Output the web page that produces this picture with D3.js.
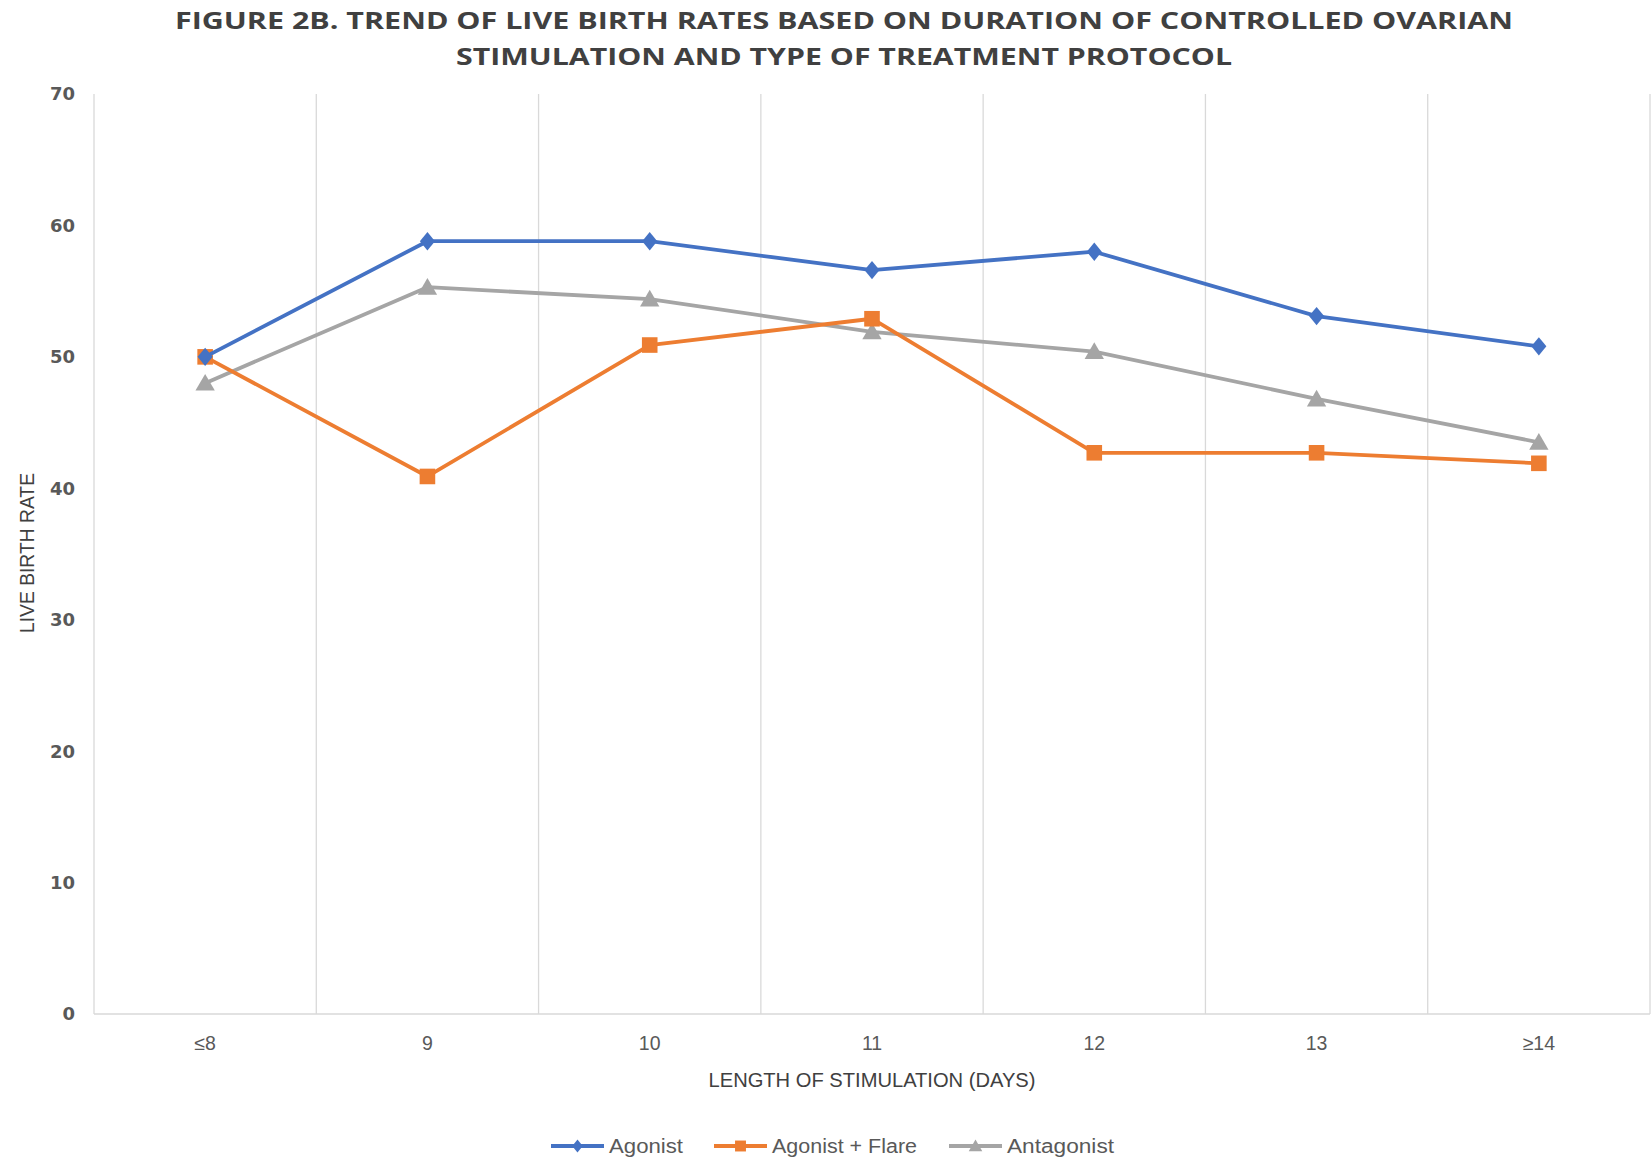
<!DOCTYPE html>
<html><head><meta charset="utf-8">
<script src="https://cdn.jsdelivr.net/npm/d3@7"></script>
<style>body{margin:0;background:#fff}svg{display:block}</style>
</head><body>
<script>
const categories = ["≤8","9","10","11","12","13","≥14"];
const agonist     = [50.0, 58.8, 58.8, 56.6, 58.0, 53.1, 50.8];
const agonistFlare= [50.0, 40.9, 50.9, 52.9, 42.7, 42.7, 41.9];
const antagonist  = [48.0, 55.3, 54.4, 51.9, 50.4, 46.8, 43.5];
const yTicks = [0,10,20,30,40,50,60,70];
const seriesNames = ["Agonist","Agonist + Flare","Antagonist"];

(function(){
const W=1652,H=1160;
const svg=d3.select("body").append("svg").attr("width",W).attr("height",H);
const pL=94,pR=1650,pT=94,pB=1014;
const x=d3.scaleBand().domain(categories).range([pL,pR]).padding(0);
const y=d3.scaleLinear().domain([0,70]).range([pB,pT]);
const grid="#d9d9d9";

const bounds=categories.map(c=>x(c)).concat([pR]);
svg.append("g").selectAll("line").data(bounds).join("line")
  .attr("x1",d=>d).attr("x2",d=>d).attr("y1",pT).attr("y2",pB)
  .attr("stroke",grid).attr("stroke-width",1.3);
svg.append("line").attr("x1",pL).attr("x2",pR).attr("y1",pB).attr("y2",pB)
  .attr("stroke",grid).attr("stroke-width",1.5);

svg.append("g").selectAll("text").data(yTicks).join("text")
  .attr("x",75).attr("y",d=>y(d)).attr("dy","0.36em").attr("text-anchor","end")
  .attr("font-family","DejaVu Sans").attr("font-weight","bold").attr("font-size",18)
  .attr("fill","#595959").text(d=>d);

svg.append("g").selectAll("text").data(categories).join("text")
  .attr("x",d=>x(d)+x.bandwidth()/2).attr("y",1043).attr("dy","0.35em").attr("text-anchor","middle")
  .attr("font-family","Liberation Sans Narrow, Liberation Sans, sans-serif").attr("font-size",19.5)
  .attr("fill","#595959").text(d=>d);

svg.append("text").attr("x",872).attr("y",1080).attr("dy","0.35em").attr("text-anchor","middle")
  .attr("font-family","Liberation Sans Narrow, Liberation Sans, sans-serif").attr("font-size",20)
  .attr("fill","#404040").attr("textLength",327).attr("lengthAdjust","spacingAndGlyphs")
  .text("LENGTH OF STIMULATION (DAYS)");
svg.append("text").attr("transform","translate(27,553) rotate(-90)").attr("dy","0.35em").attr("text-anchor","middle")
  .attr("font-family","Liberation Sans Narrow, Liberation Sans, sans-serif").attr("font-size",20)
  .attr("fill","#404040").attr("textLength",160).attr("lengthAdjust","spacingAndGlyphs")
  .text("LIVE BIRTH RATE");

const t1="FIGURE 2B. TREND OF LIVE BIRTH RATES BASED ON DURATION OF CONTROLLED OVARIAN";
const t2="STIMULATION AND TYPE OF TREATMENT PROTOCOL";
svg.append("text").attr("x",844).attr("y",21).attr("dy","0.35em").attr("text-anchor","middle")
  .attr("font-family","Open Sans").attr("font-weight","bold").attr("font-size",23)
  .attr("fill","#404040").attr("textLength",1338).attr("lengthAdjust","spacingAndGlyphs").text(t1);
svg.append("text").attr("x",844).attr("y",57).attr("dy","0.35em").attr("text-anchor","middle")
  .attr("font-family","Open Sans").attr("font-weight","bold").attr("font-size",23)
  .attr("fill","#404040").attr("textLength",776).attr("lengthAdjust","spacingAndGlyphs").text(t2);

const colors=["#4472C4","#ED7D31","#A5A5A5"];
const diamond={draw(c,r){const w=r*0.82;c.moveTo(0,-r);c.lineTo(w,0);c.lineTo(0,r);c.lineTo(-w,0);c.closePath();}};
const square={draw(c,r){c.rect(-r,-r,2*r,2*r);}};
const tri={draw(c,r){const w=r*1.1;c.moveTo(0,-r*1.05);c.lineTo(w,r*0.85);c.lineTo(-w,r*0.85);c.closePath();}};
const shapes=[diamond,square,tri];
const sizes=[9.2,7.8,8.8];
const data=[agonist,agonistFlare,antagonist];
const line=d3.line().x((d,i)=>x(categories[i])+x.bandwidth()/2).y(d=>y(d));

[2,1,0].forEach(si=>{
  const g=svg.append("g");
  g.append("path").attr("d",line(data[si])).attr("fill","none")
    .attr("stroke",colors[si]).attr("stroke-width",3.8).attr("stroke-linejoin","round");
  g.selectAll("path.m").data(data[si]).join("path").attr("class","m")
    .attr("transform",(d,i)=>`translate(${x(categories[i])+x.bandwidth()/2},${y(d)})`)
    .attr("d",d3.symbol().type(shapes[si]).size(sizes[si])).attr("fill",colors[si]);
});

const legX=[551,714,949], legTx=[609,772,1007], legTw=[74,145,107];
const lg=svg.append("g");
seriesNames.forEach((n,i)=>{
  lg.append("line").attr("x1",legX[i]).attr("x2",legX[i]+53).attr("y1",1146).attr("y2",1146)
    .attr("stroke",colors[i]).attr("stroke-width",3.8);
  lg.append("path").attr("transform",`translate(${legX[i]+26.5},1146)`)
    .attr("d",d3.symbol().type(shapes[i]).size(sizes[i]*0.7)).attr("fill",colors[i]);
  lg.append("text").attr("x",legTx[i]).attr("y",1146).attr("dy","0.35em")
    .attr("font-family","Liberation Sans Narrow, Liberation Sans, sans-serif").attr("font-size",20)
    .attr("fill","#595959").attr("textLength",legTw[i]).attr("lengthAdjust","spacingAndGlyphs").text(n);
});
})();
</script>
</body></html>
